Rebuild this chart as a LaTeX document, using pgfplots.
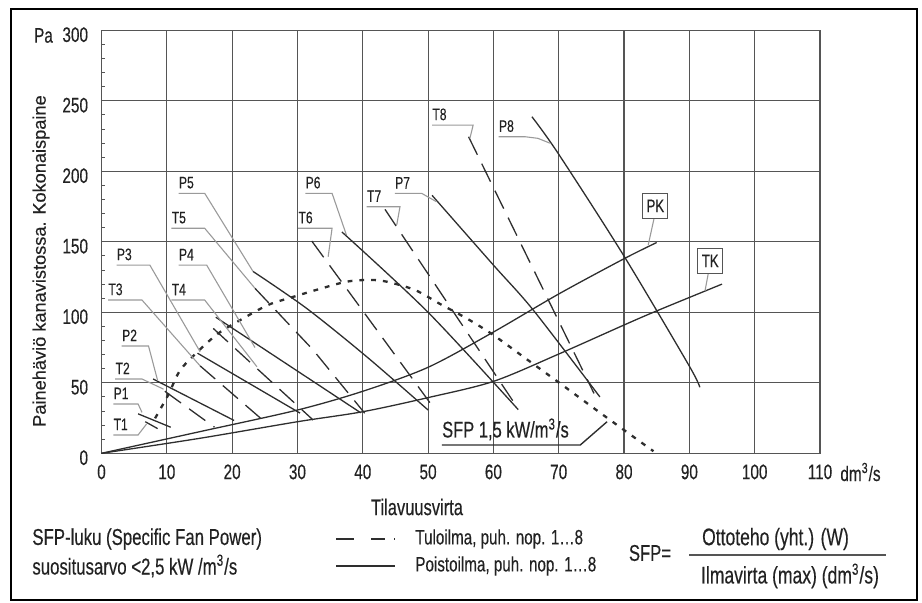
\documentclass[border=0pt]{standalone}
\usepackage{pgfplots}
\pgfplotsset{compat=1.18}
\usepackage{fontspec}
\setmainfont{Liberation Sans}[FakeStretch=0.73, FakeBold=0.35]
\newfontfamily\widefont{Liberation Sans}[FakeBold=0.3]
\definecolor{ln}{HTML}{2E2E2E}
\definecolor{gr}{HTML}{555555}
\definecolor{ld}{HTML}{9A9A9A}
\definecolor{tx}{HTML}{222222}
\tikzset{lab/.style={font=\fontsize{8.3}{10}\selectfont, text=tx, anchor=south west, inner sep=0pt, yshift=2.2pt},
  fs/.style={font=\fontsize{#1}{#1}\selectfont, text=tx}}
\begin{document}
\begin{tikzpicture}[x=1pt,y=1pt]
\path[use as bounding box] (0,0) rectangle (461,301);
\draw[line width=0.8pt, black] (5.5,1) rectangle (458.5,296.5);
\begin{axis}[
  at={(50.75pt,74.35pt)}, anchor=south west, scale only axis,
  width=359.25pt, height=211.5pt,
  xmin=0, xmax=110, ymin=0, ymax=300,
  xtick={0,10,...,110}, ytick={0,50,...,300},
  minor y tick num=4,
  tick align=inside, major tick length=2pt, minor tick length=2pt,
  xtick pos=bottom, ytick pos=left,
  grid=major, major grid style={gr, line width=0.55pt},
  axis line style={gr, line width=0.55pt},
  tick style={gr, line width=0.5pt},
  /pgf/number format/assume math mode=true,
  tick label style={font=\fontsize{10.5}{12}\selectfont, text=tx},
  yticklabel style={xshift=-3.2pt, yshift=-2.2pt},
  xticklabel style={anchor=center, yshift=-9.3pt},
  clip=false,
  every axis plot/.append style={line width=0.65pt},
]
% duct curves
\addplot[ln, smooth] coordinates {(0,0) (15,15.3) (30,30.7) (40,44) (50,61) (60,86) (70,113) (80,138) (85,149.5)};
\addplot[ln, smooth] coordinates {(0,0) (15,10.6) (30,22.4) (40,29.5) (50,39.5) (60,51) (70,70.4) (80,91) (85,101) (95,120)};
% SFP 1.5 dotted curve
\addplot[ln, smooth, line width=1.15pt, dash pattern=on 2.4pt off 3.5pt] coordinates {(8.2,24.8) (10.2,41.3) (12,58.6) (14.7,72) (17.9,85.1) (21.7,95.7) (25.5,105.2) (29.1,110.6) (33.2,116.3) (37.5,121.7) (41,123) (43.7,121.7) (48,115.8) (51.8,106) (55.9,95.7) (59.8,84.5) (64.9,67.4) (70.2,49.6) (76.8,27.2) (84.5,1.5)};
% Poistoilma (solid)
\addplot[ln] coordinates {(5.6,28) (10.6,18.5)};
\addplot[ln] coordinates {(7.9,52.7) (20.3,23.3)};
\addplot[ln] coordinates {(14.7,71) (30.4,28.5)};
\addplot[ln] coordinates {(17.5,96.5) (39.7,28.7)};
\addplot[ln, smooth] coordinates {(23.2,129) (31.4,102.8) (40.6,68.5) (50,30.7)};
\addplot[ln, smooth] coordinates {(36.8,157) (50,100) (63.8,31)};
\addplot[ln, smooth] coordinates {(50.6,183) (60,133.5) (66.1,101.6) (76.3,40)};
\addplot[ln, smooth] coordinates {(65.9,238.7) (69.9,212.8) (79.9,140.6) (89.9,62.6) (91.6,46.8)};
% Tuloilma (dashed)
\addplot[ln, dash pattern=on 10pt off 5pt] coordinates {(6.7,22.4) (8.6,17.5)};
\addplot[ln, dash pattern=on 10pt off 5pt] coordinates {(9.7,44) (17.3,18.5)};
\addplot[ln, dash pattern=on 10pt off 5pt] coordinates {(15.1,62) (24.8,23.1)};
\addplot[ln, dash pattern=on 10pt off 5pt] coordinates {(17.1,88.6) (32.4,23.6)};
\addplot[ln, dash pattern=on 10pt off 5pt] coordinates {(23.5,117) (32.4,73.3) (40.3,28.4)};
\addplot[ln, dash pattern=on 10pt off 5pt] coordinates {(32.2,150.5) (51.1,30.7)};
\addplot[ln, dash pattern=on 10pt off 5pt] coordinates {(43.4,173) (63.8,31.5)};
\addplot[ln, dash pattern=on 10pt off 5pt] coordinates {(56.2,224.5) (75.4,42.5)};
% leaders
\addplot[ld, line width=0.55pt] coordinates {(1.8,35) (5.6,35) (6.2,29)};
\addplot[ld, line width=0.55pt] coordinates {(1.8,13) (5.6,13) (6.9,20.8)};
\addplot[ld, line width=0.55pt] coordinates {(3.1,76.1) (7.2,76.1) (8.6,51.5)};
\addplot[ld, line width=0.55pt] coordinates {(2.1,52.7) (6.2,52.7) (9.5,45.5)};
\addplot[ld, line width=0.55pt] coordinates {(2.3,133.5) (7.4,133.5) (15.1,72)};
\addplot[ld, line width=0.55pt] coordinates {(1,108.7) (6.2,108.7) (15.1,62)};
\addplot[ld, line width=0.55pt] coordinates {(11.8,133.5) (16.1,133.5) (23.5,75)};
\addplot[ld, line width=0.55pt] coordinates {(10.7,108.7) (15.8,108.7) (23.8,61.4)};
\addplot[ld, line width=0.55pt] coordinates {(11.8,184.4) (15.8,184.4) (23.2,129)};
\addplot[ld, line width=0.55pt] coordinates {(10.7,159.6) (15.8,159.6) (23.5,117)};
\addplot[ld, line width=0.55pt] coordinates {(31.2,184.4) (35.3,184.4) (37.5,154.8)};
\addplot[ld, line width=0.55pt] coordinates {(30.1,159.6) (35.3,159.6) (34.7,139.4)};
\addplot[ld, line width=0.55pt] coordinates {(44.9,184.4) (49,184.4) (51.3,178.4)};
\addplot[ld, line width=0.55pt] coordinates {(40.6,174.9) (45.7,174.9) (45.2,162)};
\addplot[ld, line width=0.55pt] coordinates {(50.6,232.8) (56.9,232.8) (56.4,223.4)};
\addplot[ld, line width=0.55pt] coordinates {(60.8,224.5) (64.9,224.5) (66.8,223.4) (68.7,219.9)};
\addplot[ld, line width=0.55pt] coordinates {(84.6,166.7) (83.7,147.7)};
\addplot[ld, line width=0.55pt] coordinates {(92.9,127.7) (92.4,115.3)};
\addplot[ln, line width=0.7pt] coordinates {(52.1,5.9) (73.3,5.9) (77.4,22.4)};
% labels
\node[lab] at (axis cs:1.8,35) {P1};
\node[lab] at (axis cs:1.8,13) {T1};
\node[lab] at (axis cs:3.1,76.1) {P2};
\node[lab] at (axis cs:2.1,52.7) {T2};
\node[lab] at (axis cs:2.3,133.5) {P3};
\node[lab] at (axis cs:1,108.7) {T3};
\node[lab] at (axis cs:11.8,133.5) {P4};
\node[lab] at (axis cs:10.7,108.7) {T4};
\node[lab] at (axis cs:11.8,184.4) {P5};
\node[lab] at (axis cs:10.7,159.6) {T5};
\node[lab] at (axis cs:31.2,184.4) {P6};
\node[lab] at (axis cs:30.1,159.6) {T6};
\node[lab] at (axis cs:44.9,184.4) {P7};
\node[lab] at (axis cs:40.6,174.9) {T7};
\node[lab] at (axis cs:50.6,232.8) {T8};
\node[lab] at (axis cs:60.8,224.5) {P8};
\node[draw=gr, line width=0.5pt, fill=white, fs=9, inner sep=1.5pt, minimum width=12.5pt, minimum height=12.5pt] at (axis cs:84.8,175.5) {PK};
\node[draw=gr, line width=0.5pt, fill=white, fs=9, inner sep=1.5pt, minimum width=12.5pt, minimum height=12.5pt] at (axis cs:93.2,136.5) {TK};
\node[fs=11.3, anchor=south west, inner sep=0pt] at (axis cs:52.1,8.9) {SFP 1,5 kW/m\textsuperscript{3}/s};
\end{axis}
% outside texts
\node[fs=10.5] at (21.75,283.25) {Pa};
\node[font=\widefont\fontsize{9.1}{11}\selectfont, text=tx, rotate=90] at (20.5,170.5) {Painehäviö kanavistossa. Kokonaispaine};
\node[fs=10.5, anchor=west, inner sep=0pt] at (420,65) {dm\textsuperscript{3}/s};
\node[fs=11.3] at (208.5,47.5) {Tilavuusvirta};
\node[fs=11.5, anchor=west, inner sep=0pt] at (16,31.5) {SFP-luku (Specific Fan Power)};
\node[fs=11.5, anchor=west, inner sep=0pt] at (16,18) {suositusarvo <2,5 kW /m\textsuperscript{3}/s};
\draw[ln, line width=0.6pt] (168,31.5) -- (177,31.5) (185.5,31.5) -- (192.5,31.5) (197,31.5) -- (197.6,31.5);
\draw[ln, line width=0.6pt] (168,18) -- (197.5,18);
\node[fs=10.4, anchor=west, inner sep=0pt] at (207.5,31.5) {Tuloilma, puh. nop. 1…8};
\node[fs=10.4, anchor=west, inner sep=0pt] at (207.5,18) {Poistoilma, puh. nop. 1…8};
\node[fs=11.4] at (325,24.5) {SFP=};
\draw[gr, line width=0.7pt] (344.5,23.5) -- (443,23.5);
\node[fs=12] at (387.75,31.5) {Ottoteho (yht.) (W)};
\node[fs=12] at (395,13) {Ilmavirta (max) (dm\textsuperscript{3}/s)};
\end{tikzpicture}
\end{document}
